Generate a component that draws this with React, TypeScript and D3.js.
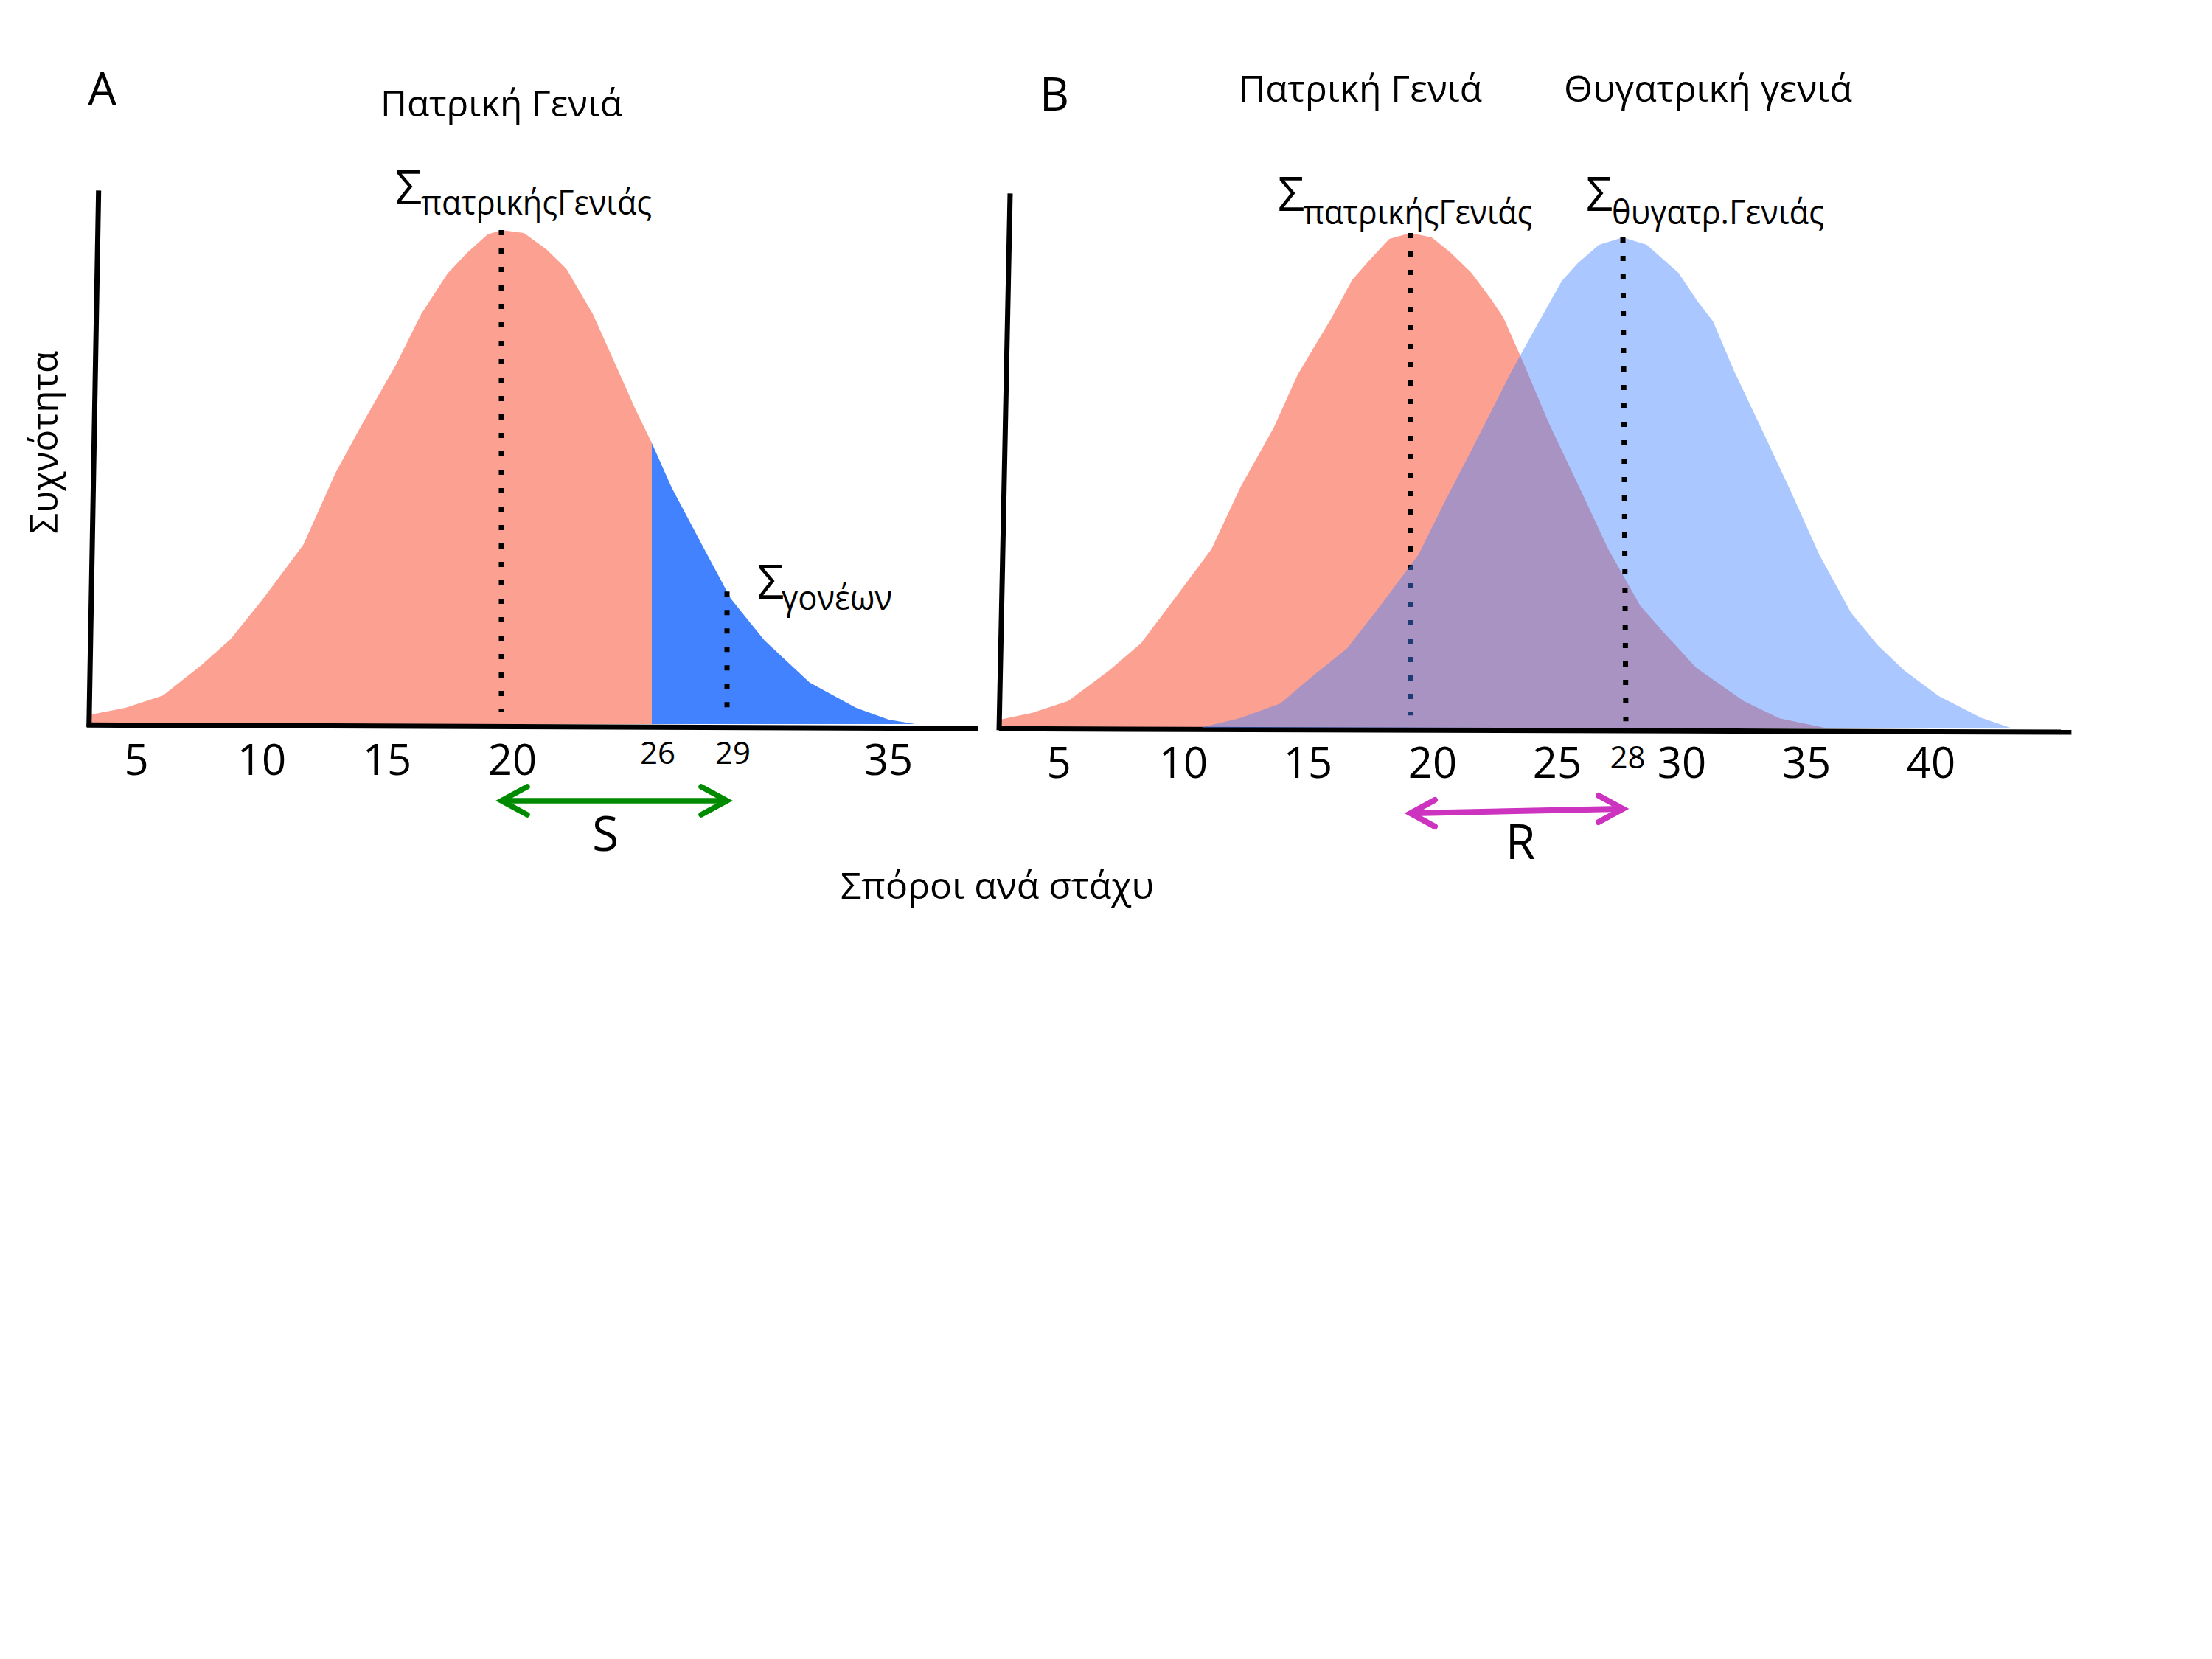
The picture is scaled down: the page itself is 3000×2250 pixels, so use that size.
import React from 'react';
import * as d3 from 'd3';

// ---------- Panel A: parental generation ----------
const parentA_x = [3.5, 5, 6.5, 8, 9.2, 10.5, 12.1, 13.4, 14.4, 15.8, 16.8, 17.85, 18.65, 19.45, 20, 20.9, 21.8, 22.6, 23.65, 24.55, 25.35, 26, 26.8, 28, 29.15, 30.5, 32.3, 34.15, 35.45, 36.5];
const parentA_f = [1.8, 3.3, 5.8, 11.8, 17.2, 25.4, 36.3, 51.0, 60.3, 72.8, 83.0, 91.2, 95.5, 99.1, 100, 99.4, 96.1, 92.1, 83.0, 72.8, 63.7, 56.9, 47.8, 36.3, 25.4, 16.9, 8.4, 3.3, 0.9, 0];
const selectionCut = 26;
const meanParentA = 20;
const meanSelected = 29;
const ticksA_big = [5, 10, 15, 20, 35];
const ticksA_small = [26, 29];

// ---------- Panel B: parental & offspring generation ----------
const parentB_x = [4.5, 5.75, 7.1, 8.65, 9.85, 11.0, 12.5, 13.6, 14.85, 15.75, 17.0, 17.8, 18.4, 19.2, 20, 20.8, 21.5, 22.3, 23.0, 23.5, 24.25, 25.2, 26.35, 27.45, 28.65, 29.5, 30.75, 32.55, 33.9, 35.6];
const parentB_f = [1.6, 3.0, 5.4, 11.6, 17.1, 25.3, 36.1, 48.7, 60.7, 71.4, 82.6, 90.5, 94.2, 98.8, 100, 99.1, 96.1, 91.9, 86.9, 82.9, 73.8, 61.7, 48.7, 36.1, 24.7, 19.5, 12.2, 5.4, 1.9, 0];
const offspringB_x = [12.15, 13.55, 15.1, 16.3, 17.6, 18.8, 20.3, 21.3, 22.4, 23.8, 24.8, 25.7, 26.3, 27.1, 28, 28.9, 30.1, 30.8, 31.4, 32.2, 33.2, 34.3, 35.4, 36.6, 37.6, 38.6, 39.9, 41.5, 42.6, 43.4];
const offspringB_f = [0.1, 1.9, 4.9, 10.4, 16.0, 24.2, 35.0, 45.8, 57.2, 72.0, 81.7, 90.3, 93.9, 97.6, 99.1, 97.6, 91.9, 86.3, 82.1, 72.0, 60.7, 48.1, 35.0, 23.2, 16.7, 11.6, 6.4, 2.0, 0, 0];
const meanParentB = 20;
const meanOffspringB = 28;
const ticksB_big = [5, 10, 15, 20, 25, 30, 35, 40];
const ticksB_small = [28];

// ---------- Texts ----------
const labelA = 'A';
const labelB = 'B';
const titleParent = 'Πατρική Γενιά';
const titleOffspring = 'Θυγατρική γενιά';
const subParent = 'πατρικήςΓενιάς';
const subOffspring = 'θυγατρ.Γενιάς';
const subSelected = 'γονέων';
const yTitle = 'Συχνότητα';
const xTitle = 'Σπόροι ανά στάχυ';

const FONT = '"Open Sans", "Noto Sans", sans-serif';
const PINK = '#FCA191';
const BLUE = '#4382FF';
const GREEN = '#008A00';
const MAGENTA = '#CC33BE';

type Pt = { v: number; f: number };
const zip = (xs: number[], fs: number[]): Pt[] => xs.map((v, i) => ({ v, f: fs[i] }));
const interpF = (pts: Pt[], v: number) => {
  for (let i = 1; i < pts.length; i++) {
    if (pts[i].v >= v) {
      const a = pts[i - 1], b = pts[i];
      return a.f + ((v - a.v) / (b.v - a.v)) * (b.f - a.f);
    }
  }
  return 0;
};

export default function App() {
  // scales
  const xA = d3.scaleLinear().domain([20, 26]).range([680, 884]);
  const yA = d3.scaleLinear().domain([0, 100]).range([982, 312]);
  const xB = d3.scaleLinear().domain([20, 28]).range([1913, 2201]);
  const yB = d3.scaleLinear().domain([0, 100]).range([987, 316]);
  const xBlabel = d3.scaleLinear().domain([5, 40]).range([1436, 2619]);

  const dataA = zip(parentA_x, parentA_f);
  const dataBp = zip(parentB_x, parentB_f);
  const dataBo = zip(offspringB_x, offspringB_f);

  const areaA = d3.area<Pt>().x(d => xA(d.v)).y0(yA(0)).y1(d => yA(d.f));
  const areaB = d3.area<Pt>().x(d => xB(d.v)).y0(yB(0)).y1(d => yB(d.f));

  const pinkPart = dataA.filter(d => d.v <= selectionCut);
  const bluePart = dataA.filter(d => d.v >= selectionCut);

  const dot = { stroke: '#000', strokeWidth: 7, strokeDasharray: '7 18', fill: 'none' } as const;

  const chevron = (x: number, y: number, dir: number, len: number, half: number) =>
    `M${x + dir * len},${y - half} L${x},${y} L${x + dir * len},${y + half}`;

  // S arrow
  const sx1 = xA(meanParentA), sx2 = xA(meanSelected), sy = 1086;
  // R arrow
  const rx1 = xB(meanParentB), rx2 = xB(meanOffspringB), ry1 = 1103, ry2 = 1097;

  return (
    <svg width={3000} height={2250} viewBox="0 0 3000 2250"
      style={{ position: 'absolute', left: 0, top: 0, background: '#fff' }}
      fontFamily={FONT}>
      <rect x={0} y={0} width={3000} height={2250} fill="#fff" />

      {/* ---------------- Panel A ---------------- */}
      <path d={areaA(pinkPart) || ''} fill={PINK} />
      <path d={areaA(bluePart) || ''} fill={BLUE} />
      <line x1={xA(meanParentA)} x2={xA(meanParentA)} y1={yA(100)} y2={yA(2.5)} {...dot} />
      <line x1={xA(meanSelected)} x2={xA(meanSelected)} y1={yA(interpF(dataA, meanSelected))} y2={yA(1.5)} {...dot} />
      {/* axes */}
      <line x1={xA(3.55) + 13} y1={yA(108)} x2={xA(3.55)} y2={yA(-0.6)} stroke="#000" strokeWidth={7} />
      <line x1={xA(3.55) - 3} y1={yA(-0.2)} x2={xA(39)} y2={yA(-0.9)} stroke="#000" strokeWidth={7} />

      <text x={119} y={143} fontSize={62}>{labelA}</text>
      <text x={516} y={158} fontSize={50} textLength={328} lengthAdjust="spacingAndGlyphs">{titleParent}</text>
      <text x={536} y={277} fontSize={64}>Σ</text>
      <text x={571} y={291} fontSize={46} textLength={313} lengthAdjust="spacingAndGlyphs">{subParent}</text>
      <text x={1027} y={812} fontSize={64}>Σ</text>
      <text x={1060} y={827} fontSize={46} textLength={150} lengthAdjust="spacingAndGlyphs">{subSelected}</text>

      {ticksA_big.map(t => (
        <text key={'a' + t} x={xA(t) + 15} y={1051} fontSize={58} textAnchor="middle">{t}</text>
      ))}
      {ticksA_small.map(t => (
        <text key={'as' + t} x={xA(t) + 8} y={1036} fontSize={42} textAnchor="middle">{t}</text>
      ))}

      <line x1={sx1 + 3} x2={sx2 - 3} y1={sy} y2={sy} stroke={GREEN} strokeWidth={7.5} />
      <path d={chevron(sx1, sy, 1, 35, 19)} stroke={GREEN} strokeWidth={7.5} fill="none" strokeLinecap="round" />
      <path d={chevron(sx2, sy, -1, 35, 19)} stroke={GREEN} strokeWidth={7.5} fill="none" strokeLinecap="round" />
      <text x={(sx1 + sx2) / 2 - 12} y={1154} fontSize={66} textAnchor="middle">S</text>

      <text transform="translate(78,600) rotate(-90)" fontSize={52} textAnchor="middle" textLength={248} lengthAdjust="spacingAndGlyphs">{yTitle}</text>
      <text x={1140} y={1219} fontSize={50} textLength={425} lengthAdjust="spacingAndGlyphs">{xTitle}</text>

      {/* ---------------- Panel B ---------------- */}
      <path d={areaB(dataBp) || ''} fill={PINK} />
      <line x1={xB(meanParentB)} x2={xB(meanParentB)} y1={yB(100)} y2={yB(2.5)} {...dot} />
      <line x1={xB(4.5)} y1={yB(-0.2)} x2={xB(44.9)} y2={yB(-0.9)} stroke="#000" strokeWidth={7} />
      <line x1={xB(4.5) + 15} y1={yB(108)} x2={xB(4.5)} y2={yB(-0.5)} stroke="#000" strokeWidth={7} />
      <path d={areaB(dataBo) || ''} fill={BLUE} fillOpacity={0.45} />
      <line x1={xB(meanOffspringB)} x2={xB(meanOffspringB) + 4} y1={yB(99.1)} y2={yB(1.3)} {...dot} />

      <text x={1410} y={150} fontSize={62}>{labelB}</text>
      <text x={1680} y={138} fontSize={50} textLength={330} lengthAdjust="spacingAndGlyphs">{titleParent}</text>
      <text x={2121} y={138} fontSize={50} textLength={391} lengthAdjust="spacingAndGlyphs">{titleOffspring}</text>
      <text x={1733} y={286} fontSize={64}>Σ</text>
      <text x={1768} y={304} fontSize={46} textLength={310} lengthAdjust="spacingAndGlyphs">{subParent}</text>
      <text x={2151} y={286} fontSize={64}>Σ</text>
      <text x={2186} y={304} fontSize={46} textLength={288} lengthAdjust="spacingAndGlyphs">{subOffspring}</text>

      {ticksB_big.map(t => (
        <text key={'b' + t} x={xBlabel(t)} y={1055} fontSize={58} textAnchor="middle">{t}</text>
      ))}
      {ticksB_small.map(t => (
        <text key={'bs' + t} x={xBlabel(t) - 6} y={1042} fontSize={42} textAnchor="middle">{t}</text>
      ))}

      <line x1={rx1 + 3} x2={rx2 - 3} y1={ry1} y2={ry2} stroke={MAGENTA} strokeWidth={8} />
      <path d={chevron(rx1, ry1, 1, 33, 18)} stroke={MAGENTA} strokeWidth={8} fill="none" strokeLinecap="round" />
      <path d={chevron(rx2, ry2, -1, 33, 18)} stroke={MAGENTA} strokeWidth={8} fill="none" strokeLinecap="round" />
      <text x={(rx1 + rx2) / 2 + 5} y={1165} fontSize={66} textAnchor="middle">R</text>
    </svg>
  );
}
